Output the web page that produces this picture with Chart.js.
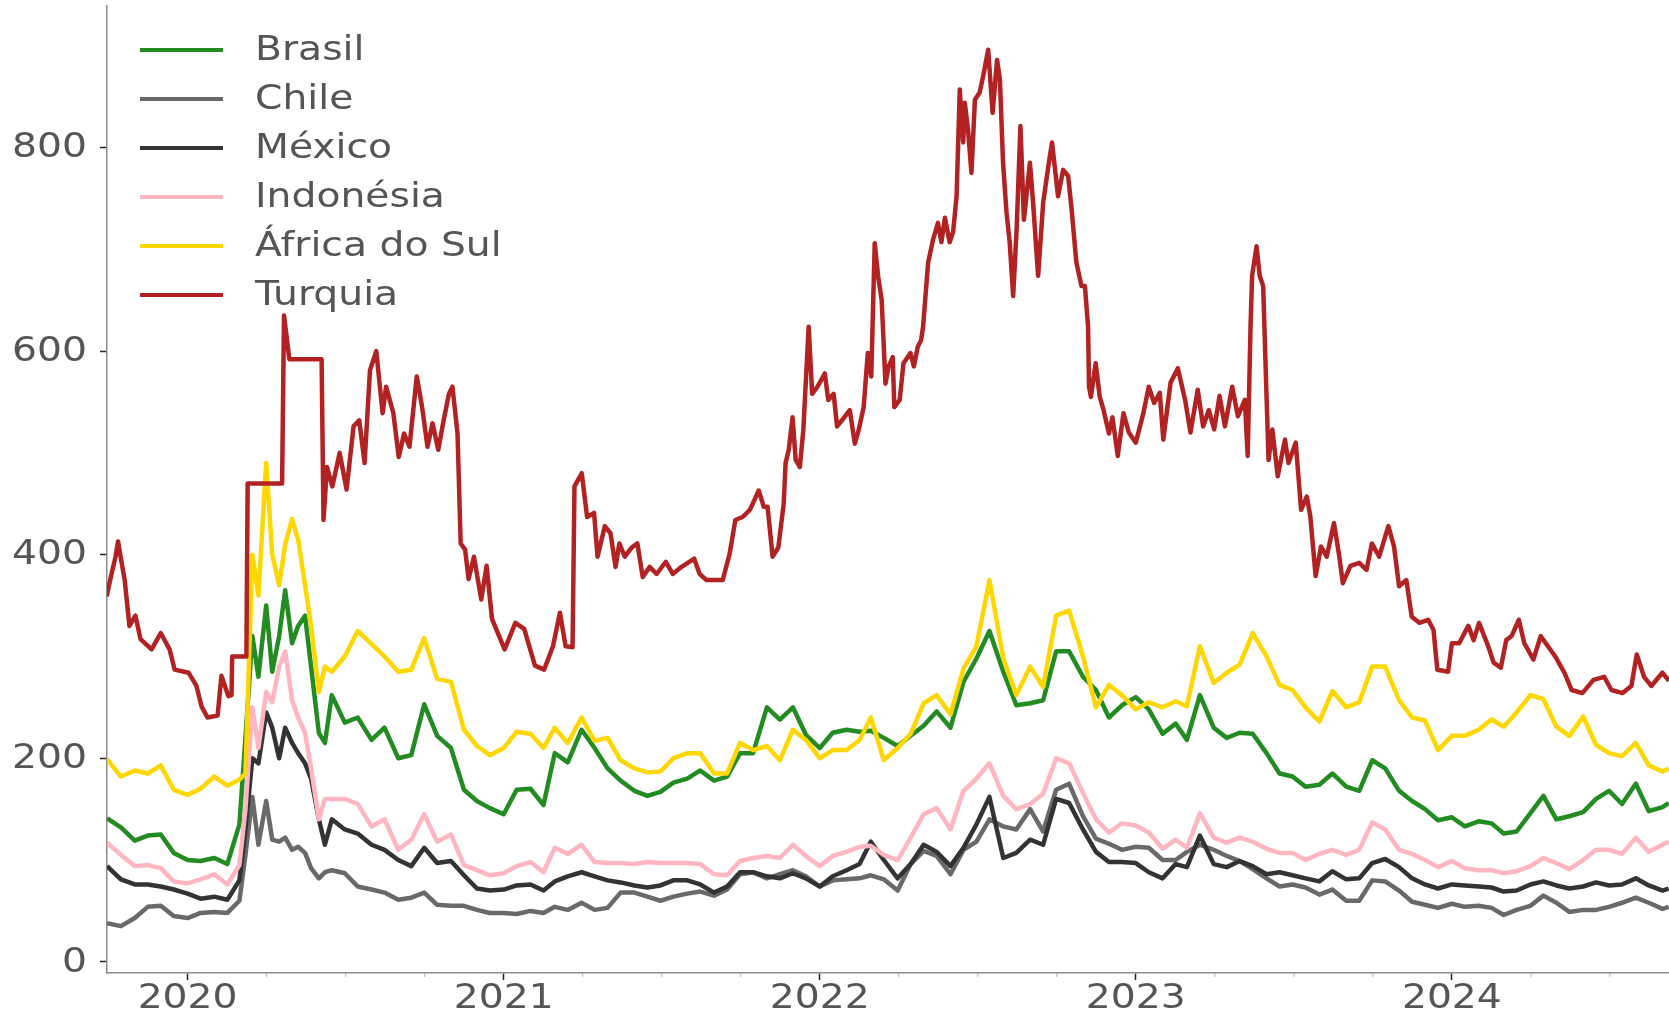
<!DOCTYPE html>
<html>
<head>
<meta charset="utf-8">
<script src="https://cdn.jsdelivr.net/npm/chart.js@4.4.1/dist/chart.umd.min.js"></script>
<style>
  html, body { margin: 0; padding: 0; background: #fff; }
  #wrap { width: 1669px; height: 1016px; position: relative; }
</style>
</head>
<body>
<div id="wrap"><canvas id="spreads"></canvas></div>
<script>
// datas da grade (quinzenal, semanal no choque de 2020)
const fechas = [
  '2019-09-30','2019-10-16','2019-11-01','2019-11-16','2019-12-01','2019-12-16',
  '2020-01-01','2020-01-16','2020-02-01','2020-02-16','2020-03-01','2020-03-08','2020-03-16','2020-03-23',
  '2020-04-01','2020-04-08','2020-04-16','2020-04-23','2020-05-01','2020-05-08','2020-05-16','2020-05-23',
  '2020-06-01','2020-06-08','2020-06-16',
  '2020-07-01','2020-07-16','2020-08-01','2020-08-16','2020-09-01','2020-09-16','2020-10-01','2020-10-16',
  '2020-11-01','2020-11-16','2020-12-01','2020-12-16',
  '2021-01-01','2021-01-16','2021-02-01','2021-02-16','2021-03-01','2021-03-16','2021-04-01','2021-04-16',
  '2021-05-01','2021-05-16','2021-06-01','2021-06-16','2021-07-01','2021-07-16','2021-08-01','2021-08-16',
  '2021-09-01','2021-09-16','2021-10-01','2021-10-16','2021-11-01','2021-11-16','2021-12-01','2021-12-16',
  '2022-01-01','2022-01-16','2022-02-01','2022-02-16','2022-03-01','2022-03-16','2022-04-01','2022-04-16',
  '2022-05-01','2022-05-16','2022-06-01','2022-06-16','2022-07-01','2022-07-16','2022-08-01','2022-08-16',
  '2022-09-01','2022-09-16','2022-10-01','2022-10-16','2022-11-01','2022-11-16','2022-12-01','2022-12-16',
  '2023-01-01','2023-01-16','2023-02-01','2023-02-16','2023-03-01','2023-03-16','2023-04-01','2023-04-16',
  '2023-05-01','2023-05-16','2023-06-01','2023-06-16','2023-07-01','2023-07-16','2023-08-01','2023-08-16',
  '2023-09-01','2023-09-16','2023-10-01','2023-10-16','2023-11-01','2023-11-16','2023-12-01','2023-12-16',
  '2024-01-01','2024-01-16','2024-02-01','2024-02-16','2024-03-01','2024-03-16','2024-04-01','2024-04-16',
  '2024-05-01','2024-05-16','2024-06-01','2024-06-16','2024-07-01','2024-07-16','2024-08-01','2024-08-16',
  '2024-09-01','2024-09-08'
];

const brasil = [
  141, 132, 119, 124, 125, 107,
  100, 99, 102, 96, 135, 220, 320, 280, 350, 285, 320, 365, 313, 330, 340, 290, 225, 215, 262,
  235, 240, 218, 230, 200, 203, 253, 222, 210, 169, 158, 151,
  145, 169, 170, 154, 205, 196, 228, 210, 190, 178, 168, 163, 167, 176, 180, 188, 178, 182, 205, 205, 250, 238, 250, 223,
  210, 225, 228, 226, 227, 220, 212, 222, 232, 246, 230, 275, 298, 325, 285, 252, 254, 257, 305, 305, 280, 267, 240, 252,
  260, 248, 224, 234, 218, 262, 230, 220, 225, 224, 205, 185, 182, 172, 174, 185, 172, 168, 198, 190, 168, 158, 150, 139,
  142, 133, 138, 136, 126, 128, 146, 163, 140, 143, 147, 160, 168, 155, 175, 148, 152, 156
];
const chile = [
  38, 35, 43, 54, 55, 45,
  43, 48, 49, 48, 60, 105, 162, 115, 158, 120, 118, 122, 110, 113, 107, 92, 82, 88, 90,
  87, 74, 71, 68, 61, 63, 68, 56, 55, 55, 51, 48,
  48, 47, 50, 48, 54, 51, 58, 51, 53, 68, 68, 64, 60, 64, 67, 69, 65, 71, 86, 88, 82, 86, 90, 84,
  74, 80, 81, 82, 85, 81, 70, 96, 109, 104, 86, 110, 118, 140, 133, 130, 150, 128, 169, 175, 143, 121, 116, 110,
  113, 112, 100, 100, 108, 115, 110, 104, 99, 91, 82, 74, 76, 73, 66, 71, 60, 60, 80, 79, 70, 59, 56, 53,
  57, 54, 55, 53, 46, 51, 55, 65, 58, 49, 51, 51, 54, 58, 63, 58, 52, 54
];
const mexico = [
  94, 81, 76, 76, 74, 71,
  67, 62, 64, 61, 80, 130, 200, 195, 245, 230, 200, 230, 215, 205, 195, 180, 140, 115, 140,
  130, 126, 115, 110, 100, 94, 112, 97, 99, 85, 72, 70,
  71, 75, 76, 70, 79, 84, 88, 84, 80, 78, 75, 73, 75, 80, 80, 76, 68, 74, 88, 88, 84, 82, 87, 82,
  74, 84, 90, 96, 118, 100, 82, 96, 115, 108, 94, 112, 135, 162, 102, 107, 120, 115, 160, 156, 130, 108, 98, 98,
  97, 88, 82, 96, 93, 124, 96, 93, 99, 94, 86, 88, 85, 82, 79, 89, 81, 82, 97, 101, 93, 82, 76, 72,
  76, 75, 74, 73, 69, 70, 76, 79, 75, 72, 74, 78, 75, 76, 82, 75, 70, 72
];
const indonesia = [
  117, 105, 94, 95, 92, 79,
  77, 81, 86, 76, 95, 150, 250, 210, 265, 255, 290, 305, 257, 240, 225, 190, 140, 160, 160,
  160, 155, 133, 140, 110, 120, 145, 118, 125, 95, 90, 85,
  87, 94, 98, 88, 112, 106, 115, 98, 97, 97, 96, 98, 97, 97, 97, 96, 86, 85, 99, 102, 104, 102, 115, 104,
  94, 104, 108, 113, 114, 105, 100, 122, 145, 151, 130, 168, 180, 195, 163, 150, 155, 165, 200, 195, 166, 140, 127, 136,
  134, 127, 111, 120, 112, 146, 122, 117, 122, 118, 111, 107, 107, 100, 106, 110, 105, 110, 137, 130, 110, 106, 100, 93,
  99, 92, 90, 90, 87, 89, 94, 102, 97, 91, 100, 110, 110, 106, 122, 108, 115, 118
];
const africaDoSul = [
  199, 182, 188, 185, 193, 169,
  164, 170, 182, 173, 179, 185, 400, 360, 490, 400, 370, 410, 435, 415, 370, 330, 265, 290, 285,
  300, 325, 312, 300, 285, 287, 318, 278, 275, 228, 212, 203,
  210, 226, 224, 210, 230, 215, 240, 217, 220, 198, 190, 186, 187, 200, 205, 205, 185, 185, 215, 208, 212, 198, 228, 218,
  200, 208, 208, 218, 240, 198, 210, 224, 254, 262, 243, 288, 310, 375, 298, 262, 290, 270, 340, 345, 300, 250, 272, 262,
  248, 255, 250, 256, 251, 310, 274, 284, 292, 323, 300, 272, 267, 250, 236, 266, 250, 255, 290, 290, 257, 240, 237, 208,
  222, 222, 228, 238, 231, 245, 262, 258, 231, 222, 241, 213, 205, 202, 215, 193, 187, 190
];

// Turquia tem datas proprias (anos decimais) por causa dos degraus e picos
const turquiaAnos = [
  2019.744, 2019.755, 2019.772, 2019.780, 2019.788, 2019.801, 2019.816, 2019.835, 2019.851, 2019.886,
  2019.915, 2019.943, 2019.959, 2020.003, 2020.028, 2020.044, 2020.063, 2020.095, 2020.107, 2020.129,
  2020.139, 2020.141, 2020.186, 2020.190, 2020.299, 2020.305, 2020.316, 2020.322, 2020.424, 2020.430,
  2020.441, 2020.458, 2020.481, 2020.503, 2020.525, 2020.543, 2020.560, 2020.577, 2020.597, 2020.617,
  2020.628, 2020.651, 2020.668, 2020.685, 2020.702, 2020.725, 2020.742, 2020.759, 2020.775, 2020.793,
  2020.810, 2020.827, 2020.838, 2020.854, 2020.864, 2020.878, 2020.889, 2020.906, 2020.929, 2020.946,
  2020.963, 2021.003, 2021.037, 2021.065, 2021.099, 2021.128, 2021.156, 2021.178, 2021.196, 2021.218,
  2021.224, 2021.247, 2021.264, 2021.286, 2021.297, 2021.320, 2021.338, 2021.354, 2021.366, 2021.383,
  2021.405, 2021.423, 2021.440, 2021.462, 2021.484, 2021.513, 2021.535, 2021.563, 2021.603, 2021.620,
  2021.642, 2021.693, 2021.715, 2021.733, 2021.756, 2021.779, 2021.807, 2021.823, 2021.835, 2021.851,
  2021.869, 2021.886, 2021.892, 2021.902, 2021.914, 2021.924, 2021.937, 2021.948, 2021.965, 2021.976,
  2021.993, 2022.016, 2022.027, 2022.044, 2022.055, 2022.078, 2022.095, 2022.111, 2022.123, 2022.139,
  2022.152, 2022.163, 2022.174, 2022.185, 2022.196, 2022.208, 2022.218, 2022.231, 2022.236, 2022.253,
  2022.265, 2022.287, 2022.298, 2022.310, 2022.321, 2022.327, 2022.343, 2022.359, 2022.374, 2022.385,
  2022.396, 2022.411, 2022.422, 2022.433, 2022.443, 2022.454, 2022.459, 2022.469, 2022.480, 2022.491,
  2022.506, 2022.517, 2022.533, 2022.547, 2022.561, 2022.570, 2022.580, 2022.591, 2022.601, 2022.612,
  2022.623, 2022.635, 2022.646, 2022.665, 2022.675, 2022.691, 2022.707, 2022.723, 2022.735, 2022.754,
  2022.770, 2022.786, 2022.797, 2022.812, 2022.828, 2022.839, 2022.849, 2022.852, 2022.858, 2022.873,
  2022.886, 2022.898, 2022.915, 2022.926, 2022.943, 2022.961, 2022.978, 2023.000, 2023.024, 2023.041,
  2023.058, 2023.076, 2023.087, 2023.110, 2023.133, 2023.156, 2023.173, 2023.196, 2023.213, 2023.231,
  2023.248, 2023.265, 2023.282, 2023.305, 2023.323, 2023.345, 2023.354, 2023.363, 2023.368, 2023.382,
  2023.392, 2023.403, 2023.414, 2023.420, 2023.432, 2023.449, 2023.472, 2023.483, 2023.506, 2023.523,
  2023.541, 2023.552, 2023.569, 2023.586, 2023.604, 2023.627, 2023.644, 2023.655, 2023.679, 2023.707,
  2023.730, 2023.747, 2023.770, 2023.799, 2023.817, 2023.833, 2023.856, 2023.873, 2023.897, 2023.925,
  2023.942, 2023.954, 2023.988, 2024.000, 2024.023, 2024.052, 2024.069, 2024.086, 2024.115, 2024.132,
  2024.155, 2024.172, 2024.189, 2024.212, 2024.229, 2024.258, 2024.281, 2024.304, 2024.327, 2024.356,
  2024.379, 2024.413, 2024.448, 2024.482, 2024.505, 2024.540, 2024.568, 2024.585, 2024.608, 2024.631,
  2024.666, 2024.687
];
const turquia = [
  359, 375, 398, 413, 398, 375, 330, 340, 317, 307,
  323, 307, 287, 284, 271, 251, 240, 242, 281, 261,
  262, 300, 300, 470, 470, 635, 607, 592, 592, 434,
  486, 467, 500, 464, 526, 532, 490, 581, 600, 539,
  565, 539, 496, 519, 506, 575, 545, 506, 529, 503,
  532, 558, 565, 519, 411, 405, 376, 398, 356, 389,
  337, 307, 333, 327, 291, 287, 310, 343, 310, 309,
  467, 480, 437, 441, 398, 428, 421, 388, 411, 398,
  407, 411, 378, 388, 381, 393, 381, 388, 396, 381,
  375, 375, 401, 434, 437, 444, 463, 447, 447, 398,
  407, 450, 490, 503, 535, 493, 486, 522, 624, 558,
  565, 578, 552, 558, 526, 535, 542, 509, 522, 545,
  598, 575, 706, 673, 650, 568, 585, 594, 545, 552,
  588, 598, 585, 604, 611, 624, 687, 710, 726, 707,
  731, 707, 717, 752, 857, 805, 844, 818, 775, 847,
  854, 870, 896, 834, 886, 867, 785, 736, 707, 654,
  720, 821, 729, 785, 746, 674, 746, 781, 805, 752,
  778, 772, 739, 687, 664, 664, 624, 565, 555, 588,
  555, 542, 519, 535, 497, 539, 520, 510, 539, 565,
  549, 559, 513, 569, 583, 552, 520, 562, 526, 542,
  523, 556, 526, 565, 536, 552, 497, 624, 674, 703,
  674, 664, 552, 493, 523, 477, 513, 490, 510, 444,
  457, 438, 379, 408, 398, 431, 398, 372, 389, 392,
  385, 411, 398, 428, 408, 369, 375, 339, 333, 336,
  326, 287, 285, 313, 313, 330, 316, 333, 310, 294,
  289, 316, 320, 336, 313, 297, 320, 310, 300, 284,
  267, 264, 277, 280, 267, 264, 271, 302, 280, 271,
  284, 276
];

const paises = ['Brasil', 'Chile', 'México', 'Indonésia', 'África do Sul', 'Turquia'];
const cores = ['#228B22', '#696969', '#333333', '#FFB6C1', '#FFD700', '#B22222'];
const yTicks = [0, 200, 400, 600, 800];
const anos = [2019, 2020, 2021, 2022, 2023, 2024];

const X_MIN = 2019.745;
const X_MAX = 2024.687;

// data -> ano decimal
function anoDecimal(s) {
  const d = new Date(s + 'T00:00:00Z');
  const y = d.getUTCFullYear();
  const ini = Date.UTC(y, 0, 1), fim = Date.UTC(y + 1, 0, 1);
  return y + (d.getTime() - ini) / (fim - ini);
}

const xGrade = fechas.map(anoDecimal);
const serie = (vals, xs) => vals.map((v, i) => ({ x: xs[i], y: v }));

const valores = [brasil, chile, mexico, indonesia, africaDoSul];
const datasets = valores.map((vals, i) => ({
  label: paises[i],
  data: serie(vals, xGrade),
  borderColor: cores[i],
}));
datasets.push({ label: paises[5], data: serie(turquia, turquiaAnos), borderColor: cores[5] });
datasets.forEach((ds, i) => {
  ds.borderWidth = 4.5;
  ds.pointRadius = 0;
  ds.tension = 0;
  ds.fill = false;
  ds.borderJoinStyle = 'round';
  ds.order = datasets.length - 1 - i; // ultima serie por cima
});

// trimestres para os ticks do eixo x (so dentro da janela)
const trimestres = [];
anos.forEach(a => [0, 0.25, 0.5, 0.75].forEach(q => {
  const v = a + q;
  if (v >= X_MIN && v <= X_MAX) trimestres.push(v);
}));
const ehAno = v => Math.abs(v - Math.round(v)) < 1e-6;

const FONTE = '"DejaVu Sans", sans-serif';
const CINZA_TXT = '#555555';
const ESTICA = 1.155; // o texto do original aparece esticado na horizontal

function texto(ctx, s, x, y, align) {
  ctx.save();
  ctx.translate(x, y);
  ctx.scale(ESTICA, 1);
  ctx.textAlign = align;
  ctx.textBaseline = 'middle';
  ctx.fillText(s, 0, 0);
  ctx.restore();
}

const extras = {
  id: 'extras',
  afterDraw(chart) {
    const ctx = chart.ctx;
    const xs = chart.scales.x;
    const ys = chart.scales.y;
    ctx.save();
    // ticks menores (trimestrais)
    ctx.strokeStyle = '#b5b5b5';
    ctx.lineWidth = 1;
    xs.ticks.forEach(t => {
      if (ehAno(t.value)) return;
      const px = xs.getPixelForValue(t.value);
      if (px < xs.left + 3) return;
      ctx.beginPath();
      ctx.moveTo(px, xs.top);
      ctx.lineTo(px, xs.top + 4);
      ctx.stroke();
    });
    // rotulos dos eixos
    ctx.font = '34px ' + FONTE;
    ctx.fillStyle = CINZA_TXT;
    ys.ticks.forEach(t => {
      texto(ctx, String(t.value), ys.right - 20, ys.getPixelForValue(t.value) + 1, 'right');
    });
    xs.ticks.forEach(t => {
      if (!ehAno(t.value)) return;
      texto(ctx, String(Math.round(t.value)), xs.getPixelForValue(t.value), xs.top + 26, 'center');
    });
    // legenda
    chart.data.datasets.forEach((ds, i) => {
      const y = 50 + i * 49;
      ctx.strokeStyle = ds.borderColor;
      ctx.lineWidth = 4;
      ctx.beginPath();
      ctx.moveTo(140, y);
      ctx.lineTo(223, y);
      ctx.stroke();
      ctx.fillStyle = CINZA_TXT;
      texto(ctx, ds.label, 255, y + 1, 'left');
    });
    ctx.restore();
  }
};

new Chart(document.getElementById('spreads'), {
  type: 'line',
  data: { datasets },
  plugins: [extras],
  options: {
    responsive: true,
    maintainAspectRatio: false,
    animation: false,
    devicePixelRatio: 1,
    layout: { padding: { top: 6, right: 0, bottom: 0, left: 0 } },
    plugins: { legend: { display: false }, tooltip: { enabled: false } },
    scales: {
      x: {
        type: 'linear',
        min: X_MIN,
        max: X_MAX,
        afterBuildTicks: s => { s.ticks = trimestres.map(v => ({ value: v })); },
        afterFit: s => { s.height = 43; s.paddingLeft = 0; s.paddingRight = 0; },
        grid: {
          drawOnChartArea: false,
          drawTicks: true,
          tickLength: 7,
          tickWidth: 1.5,
          tickColor: c => (c.tick && ehAno(c.tick.value)) ? '#222222' : 'rgba(0,0,0,0)'
        },
        border: { display: true, color: '#8c8c8c', width: 1.5 },
        ticks: {
          autoSkip: false,
          maxRotation: 0,
          padding: 0,
          color: 'rgba(0,0,0,0)',
          font: { family: FONTE, size: 34 },
          callback: v => ehAno(v) ? String(Math.round(v)) : ''
        }
      },
      y: {
        type: 'linear',
        min: -11,
        max: 939,
        afterBuildTicks: s => { s.ticks = yTicks.map(v => ({ value: v })); },
        afterFit: s => { s.width = 107; s.paddingTop = 0; s.paddingBottom = 0; },
        grid: {
          drawOnChartArea: false,
          drawTicks: true,
          tickLength: 7,
          tickWidth: 1.5,
          tickColor: '#222222'
        },
        border: { display: true, color: '#8c8c8c', width: 1.5 },
        ticks: {
          padding: 13,
          color: 'rgba(0,0,0,0)',
          font: { family: FONTE, size: 34 }
        }
      }
    }
  }
});
</script>
</body>
</html>
